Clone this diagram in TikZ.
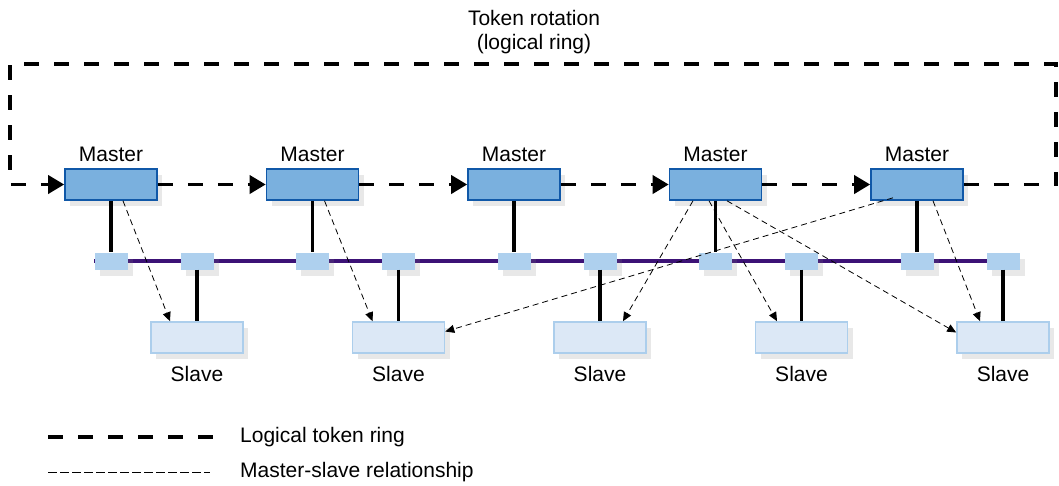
\documentclass[tikz,border=0pt]{standalone}
\usepackage{fontspec}
\setmainfont{Liberation Sans}
\usetikzlibrary{arrows.meta,shadows,backgrounds}
\definecolor{mfill}{RGB}{122,176,222}
\definecolor{mdraw}{RGB}{16,88,168}
\definecolor{tfill}{RGB}{174,208,238}
\definecolor{sfill}{RGB}{220,232,246}
\definecolor{sdraw}{RGB}{172,206,236}
\definecolor{buscol}{RGB}{60,18,118}
\tikzset{
  txt/.style={font=\fontsize{21}{24}\selectfont, inner sep=0pt},
  shad/.style={drop shadow={opacity=0.18, shadow xshift=5pt, shadow yshift=-6pt}},
  master/.style={draw=mdraw, line width=1.6pt, fill=mfill, minimum width=92pt, minimum height=31pt, inner sep=0pt, shad},
  slave/.style={draw=sdraw, line width=1.6pt, fill=sfill, minimum width=92pt, minimum height=31pt, inner sep=0pt, shad},
  tap/.style={fill=tfill, minimum width=33pt, minimum height=17pt, inner sep=0pt, shad},
  ring/.style={line width=3.6pt, dash pattern=on 15pt off 15pt},
  ringarrow/.style={ring, -{Triangle[length=16pt,width=18pt]}},
  ms/.style={line width=0.8pt, dash pattern=on 6pt off 4pt, -{Triangle[length=9pt,width=8pt]}},
  stem/.style={line width=3.6pt},
  bus/.style={line width=4pt, buscol},
}
\begin{document}
\begin{tikzpicture}[x=1pt,y=-1pt]
\useasboundingbox (0,0) rectangle (1059,485);
% taps
\foreach \i in {1,...,5}{
  \node[tap] (ta\i) at ({111+201.5*(\i-1)},261) {};
  \node[tap] (tb\i) at ({197+201.5*(\i-1)},261) {};
}
\begin{scope}[on background layer]
  \draw[bus] (ta1.west) -- (tb5.east);
\end{scope}
% masters and slaves
\foreach \i in {1,...,5}{
  \node[master] (m\i) at ({111+201.5*(\i-1)},184.5) {};
  \node[slave] (s\i) at ({197+201.5*(\i-1)},337.5) {};
  \node[txt, anchor=base] (ml\i) at ([yshift=7pt]m\i.north) {Master};
  \node[txt, anchor=base] (sl\i) at ([yshift=-28pt]s\i.south) {Slave};
  \draw[stem] (m\i.south) -- (ta\i.north);
  \draw[stem] (tb\i.south) -- (s\i.north);
}
% token ring
\coordinate (r1) at (1056,184.5);
\coordinate (r2) at (1056,64);
\coordinate (r3) at (10,64);
\coordinate (r4) at (10,184.5);
\draw[ringarrow] (m5.east) -- (r1) -- (r2) -- (r3) -- (r4) -- (m1.west);
\draw[ringarrow] (m1.east) -- (m2.west);
\draw[ringarrow] (m2.east) -- (m3.west);
\draw[ringarrow] (m3.east) -- (m4.west);
\draw[ringarrow] (m4.east) -- (m5.west);
% master-slave relations
\draw[ms] ([xshift=12pt]m1.south) -- ([xshift=-27pt]s1.north);
\draw[ms] ([xshift=12pt]m2.south) -- ([xshift=-26pt]s2.north);
\draw[ms] ([xshift=-22.5pt]m4.south) -- ([xshift=23pt]s3.north);
\draw[ms] ([xshift=-6.5pt]m4.south) -- ([xshift=-24.5pt]s4.north);
\draw[ms] ([xshift=11.5pt]m4.south) -- ([yshift=5pt]s5.west);
\draw[ms] ([xshift=-24pt,yshift=3pt]m5.south) -- ([yshift=6pt]s2.east);
\draw[ms] ([xshift=16pt]m5.south) -- ([xshift=-23pt]s5.north);
% title
\node[txt, align=center] (title) at (534,32) {Token rotation\\(logical ring)};
% legend
\coordinate (l1a) at (48,437);
\coordinate (l1b) at (213,437);
\coordinate (l2a) at (48,472);
\coordinate (l2b) at (210,472);
\draw[ring] (l1a) -- (l1b);
\draw[line width=0.8pt, dash pattern=on 9pt off 3pt] (l2a) -- (l2b);
\node[txt, anchor=west] (lt1) at (240,437) {Logical token ring};
\node[txt, anchor=west] (lt2) at (240,472) {Master-slave relationship};
\end{tikzpicture}
\end{document}
